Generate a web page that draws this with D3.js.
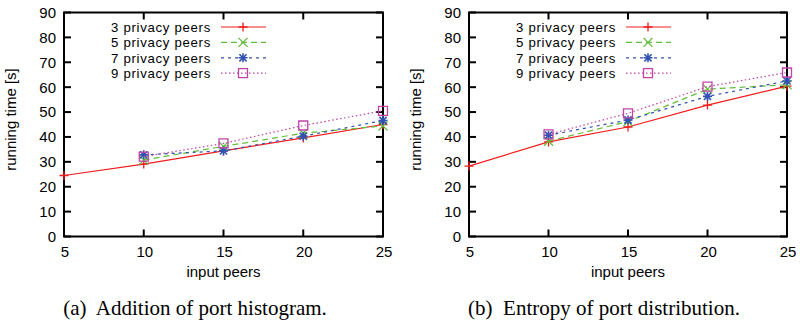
<!DOCTYPE html>
<html>
<head>
<meta charset="utf-8">
<script src="https://cdn.jsdelivr.net/npm/d3@7"></script>
<style>
  body { margin: 0; background: #fff; }
  svg text { font-family: "Liberation Sans", Arial, sans-serif; }
  .caption { font-family: "Liberation Serif", "Times New Roman", serif; font-size: 21px; }
</style>
</head>
<body>
<div id="chart"></div>
<script>
// input peers (x) and y ticks
const xTicks = [5, 10, 15, 20, 25];
const yTicks = [0, 10, 20, 30, 40, 50, 60, 70, 80, 90];
const seriesNames = ["3 privacy peers", "5 privacy peers", "7 privacy peers", "9 privacy peers"];

// (a) Addition of port histogram
const addX3 = [5, 10, 15, 20, 25];
const add3 = [24.5, 29.1, 34.4, 39.6, 45.0];
const addX = [10, 15, 20, 25];
const add5 = [30.7, 36.2, 41.5, 44.4];
const add7 = [32.8, 34.4, 40.3, 46.6];
const add9 = [32.1, 37.4, 44.6, 50.5];

// (b) Entropy of port distribution
const entX3 = [5, 10, 15, 20, 25];
const ent3 = [28.3, 38.0, 44.0, 52.8, 60.4];
const entX = [10, 15, 20, 25];
const ent5 = [38.3, 46.2, 59.2, 61.0];
const ent7 = [40.7, 46.8, 56.3, 62.5];
const ent9 = [41.0, 49.5, 60.2, 65.9];

const colors = ["#f01c1c", "#62bd3c", "#3152b0", "#c143a6"];
const dashes = [null, "6,4", "3,4", "1.5,2.5"];
const shapes = ["plus", "cross", "star", "square"];

const svg = d3.select("#chart").append("svg")
  .attr("width", 800)
  .attr("height", 324);

function marker(g, shape, x, y, color) {
  const s = 4.5;
  const p = d3.path();
  if (shape === "plus" || shape === "star") {
    p.moveTo(x - s, y); p.lineTo(x + s, y);
    p.moveTo(x, y - s); p.lineTo(x, y + s);
  }
  if (shape === "cross" || shape === "star") {
    const c = shape === "star" ? s * 0.8 : s;
    p.moveTo(x - c, y - c); p.lineTo(x + c, y + c);
    p.moveTo(x - c, y + c); p.lineTo(x + c, y - c);
  }
  if (shape === "square") {
    p.rect(x - s, y - s, 2 * s, 2 * s);
  }
  g.append("path")
    .attr("d", p.toString())
    .attr("fill", "none")
    .attr("stroke", color)
    .attr("stroke-width", shape === "star" ? 1.6 : 1.3);
}

function drawPanel(left, right, series, caption, capX) {
  const x = d3.scaleLinear().domain([5, 25]).range([left, right]);
  const y = d3.scaleLinear().domain([0, 90]).range([236.5, 12.5]);
  const g = svg.append("g");

  // frame
  g.append("rect")
    .attr("x", x(5)).attr("y", y(90))
    .attr("width", x(25) - x(5)).attr("height", y(0) - y(90))
    .attr("fill", "none").attr("stroke", "#000").attr("stroke-width", 2);

  // inner ticks on all four sides
  const tl = 7;
  yTicks.forEach(t => {
    g.append("line").attr("x1", x(5)).attr("x2", x(5) + tl)
      .attr("y1", y(t)).attr("y2", y(t)).attr("stroke", "#000").attr("stroke-width", 2);
    g.append("line").attr("x1", x(25)).attr("x2", x(25) - tl)
      .attr("y1", y(t)).attr("y2", y(t)).attr("stroke", "#000").attr("stroke-width", 2);
    g.append("text").attr("x", x(5) - 8).attr("y", y(t)).attr("dy", "0.36em")
      .attr("text-anchor", "end").attr("font-size", 15).text(t);
  });
  xTicks.forEach(t => {
    g.append("line").attr("x1", x(t)).attr("x2", x(t))
      .attr("y1", y(0)).attr("y2", y(0) - tl).attr("stroke", "#000").attr("stroke-width", 2);
    g.append("line").attr("x1", x(t)).attr("x2", x(t))
      .attr("y1", y(90)).attr("y2", y(90) + tl).attr("stroke", "#000").attr("stroke-width", 2);
    g.append("text").attr("x", x(t) + 1).attr("y", 257)
      .attr("text-anchor", "middle").attr("font-size", 15).text(t);
  });

  // axis titles
  g.append("text")
    .attr("transform", `translate(${left - 48},${y(47)}) rotate(-90)`)
    .attr("text-anchor", "middle").attr("font-size", 15)
    .text("running time [s]");
  g.append("text").attr("x", (x(5) + x(25)) / 2).attr("y", 277)
    .attr("text-anchor", "middle").attr("font-size", 15).text("input peers");

  // series
  const line = d3.line().x(d => x(d[0])).y(d => y(d[1]));
  series.forEach((s, i) => {
    const pts = s.xs.map((v, j) => [v, s.ys[j]]);
    g.append("path").datum(pts)
      .attr("d", line)
      .attr("fill", "none")
      .attr("stroke", colors[i])
      .attr("stroke-width", 1.2)
      .attr("stroke-dasharray", dashes[i]);
    pts.forEach(p => marker(g, shapes[i], x(p[0]), y(p[1]), colors[i]));
  });

  // legend
  const lx = x(5) + 147;
  seriesNames.forEach((name, i) => {
    const ly = 27 + i * 15.4;
    g.append("text").attr("x", lx).attr("y", ly).attr("dy", "0.36em")
      .attr("text-anchor", "end").attr("font-size", 13.2)
      .attr("letter-spacing", 0.7).text(name);
    g.append("line").attr("x1", lx + 10).attr("x2", lx + 55)
      .attr("y1", ly).attr("y2", ly)
      .attr("stroke", colors[i]).attr("stroke-width", 1.2)
      .attr("stroke-dasharray", dashes[i]);
    marker(g, shapes[i], lx + 32, ly, colors[i]);
  });

  g.append("text").attr("class", "caption")
    .attr("x", capX).attr("y", 315)
    .attr("text-anchor", "middle").attr("xml:space", "preserve").text(caption);
}

drawPanel(64, 383, [
  { xs: addX3, ys: add3 },
  { xs: addX, ys: add5 },
  { xs: addX, ys: add7 },
  { xs: addX, ys: add9 }
], "(a)  Addition of port histogram.", 195);

drawPanel(469, 787, [
  { xs: entX3, ys: ent3 },
  { xs: entX, ys: ent5 },
  { xs: entX, ys: ent7 },
  { xs: entX, ys: ent9 }
], "(b)  Entropy of port distribution.", 604);
</script>
</body>
</html>
